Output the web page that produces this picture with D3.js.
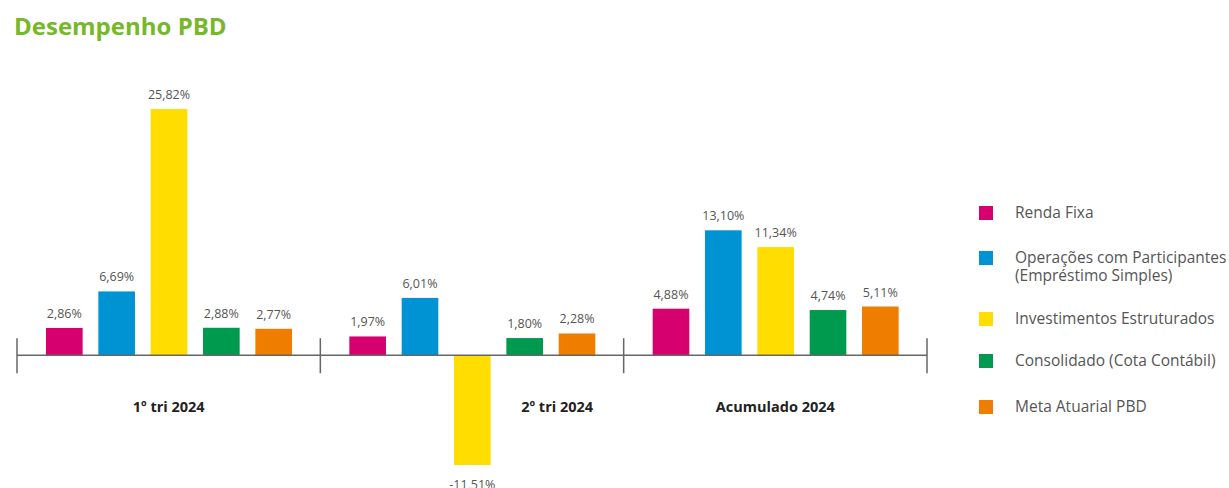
<!DOCTYPE html>
<html>
<head>
<meta charset="utf-8">
<script src="https://cdn.jsdelivr.net/npm/d3@7"></script>
<style>
  body { margin: 0; background: #fff; }
  svg { display: block; font-family: "Open Sans", sans-serif; }
</style>
</head>
<body>
<svg id="chart" width="1229" height="488"></svg>
<script>
// chart data
const categories = ['1º tri 2024', '2º tri 2024', 'Acumulado 2024'];
const seriesNames = [
  'Renda Fixa',
  'Operações com Participantes|(Empréstimo Simples)',
  'Investimentos Estruturados',
  'Consolidado (Cota Contábil)',
  'Meta Atuarial PBD'
];
const seriesColors = ['#d6006f', '#0093d3', '#ffdd00', '#009a4e', '#ef7d00'];
const rendaFixa = [2.86, 1.97, 4.88];
const operacoes = [6.69, 6.01, 13.10];
const investimentos = [25.82, -11.51, 11.34];
const consolidado = [2.88, 1.80, 4.74];
const metaAtuarial = [2.77, 2.28, 5.11];

const seriesValues = [rendaFixa, operacoes, investimentos, consolidado, metaAtuarial];

const width = 1229;
const height = 488;
const svg = d3.select('#chart');

const locale = d3.formatLocale({ decimal: ',', thousands: '.', grouping: [3], currency: ['R$', ''], minus: '-' });
const fmt = v => locale.format('.2f')(v) + '%';

// title
svg.append('text')
  .attr('x', 14)
  .attr('y', 35)
  .attr('fill', '#76b82a')
  .attr('font-size', 24)
  .attr('font-weight', 700)
  .text('Desempenho PBD');

// scales
const x0 = d3.scaleBand()
  .domain(categories)
  .range([17, 927])
  .padding(0);

const x1 = d3.scaleBand()
  .domain(d3.range(seriesNames.length))
  .range([29, 275])
  .paddingInner(0.3);

const y = d3.scaleLinear()
  .domain([-11.51, 25.82])
  .range([465, 109]);

const y0 = y(0);

// bars
const groups = svg.append('g').selectAll('g')
  .data(categories)
  .join('g')
  .attr('transform', c => `translate(${x0(c)},0)`);

groups.each(function(c, ci) {
  const g = d3.select(this);
  seriesValues.forEach((vals, si) => {
    const v = vals[ci];
    g.append('rect')
      .attr('x', x1(si))
      .attr('y', v >= 0 ? y(v) : y0)
      .attr('width', x1.bandwidth())
      .attr('height', Math.abs(y(v) - y0))
      .attr('fill', seriesColors[si]);
    g.append('text')
      .attr('x', x1(si) + x1.bandwidth() / 2)
      .attr('y', v >= 0 ? y(v) - 10 : y(v) + 24)
      .attr('text-anchor', 'middle')
      .attr('font-size', 12.5)
      .attr('fill', '#555')
      .text(fmt(v));
  });
});

// axis line with separators
const axis = svg.append('g').attr('stroke', '#666').attr('stroke-width', 1.5);
axis.append('line')
  .attr('x1', x0.range()[0]).attr('x2', x0.range()[1])
  .attr('y1', y0).attr('y2', y0);
const edges = categories.map(c => x0(c)).concat([x0.range()[1]]);
axis.selectAll('line.tick')
  .data(edges)
  .join('line')
  .attr('class', 'tick')
  .attr('x1', d => d).attr('x2', d => d)
  .attr('y1', y0 - 17).attr('y2', y0 + 18);

// category labels (moved right of any negative bar)
categories.forEach((c, ci) => {
  let cx = x0(c) + x0.bandwidth() / 2;
  const negIdx = seriesValues.map((v, i) => v[ci] < 0 ? i : -1).filter(i => i >= 0);
  if (negIdx.length) {
    const last = d3.max(negIdx);
    const left = x0(c) + x1(last) + x1.bandwidth();
    cx = (left + x0(c) + x0.bandwidth()) / 2;
  }
  svg.append('text')
    .attr('x', cx)
    .attr('y', 412)
    .attr('text-anchor', 'middle')
    .attr('font-size', 14.5)
    .attr('font-weight', 700)
    .attr('fill', '#222')
    .text(c);
});

// legend
const legendY = [213, 258, 319, 361, 407];
const legend = svg.append('g');
seriesNames.forEach((name, i) => {
  legend.append('rect')
    .attr('x', 979)
    .attr('y', legendY[i] - 7)
    .attr('width', 14)
    .attr('height', 14)
    .attr('fill', seriesColors[i]);
  const t = legend.append('text')
    .attr('x', 1015)
    .attr('y', legendY[i] + 5)
    .attr('font-size', 15.5)
    .attr('fill', '#555');
  name.split('|').forEach((line, li) => {
    t.append('tspan')
      .attr('x', 1015)
      .attr('dy', li === 0 ? 0 : 18)
      .text(line);
  });
});
</script>
</body>
</html>
